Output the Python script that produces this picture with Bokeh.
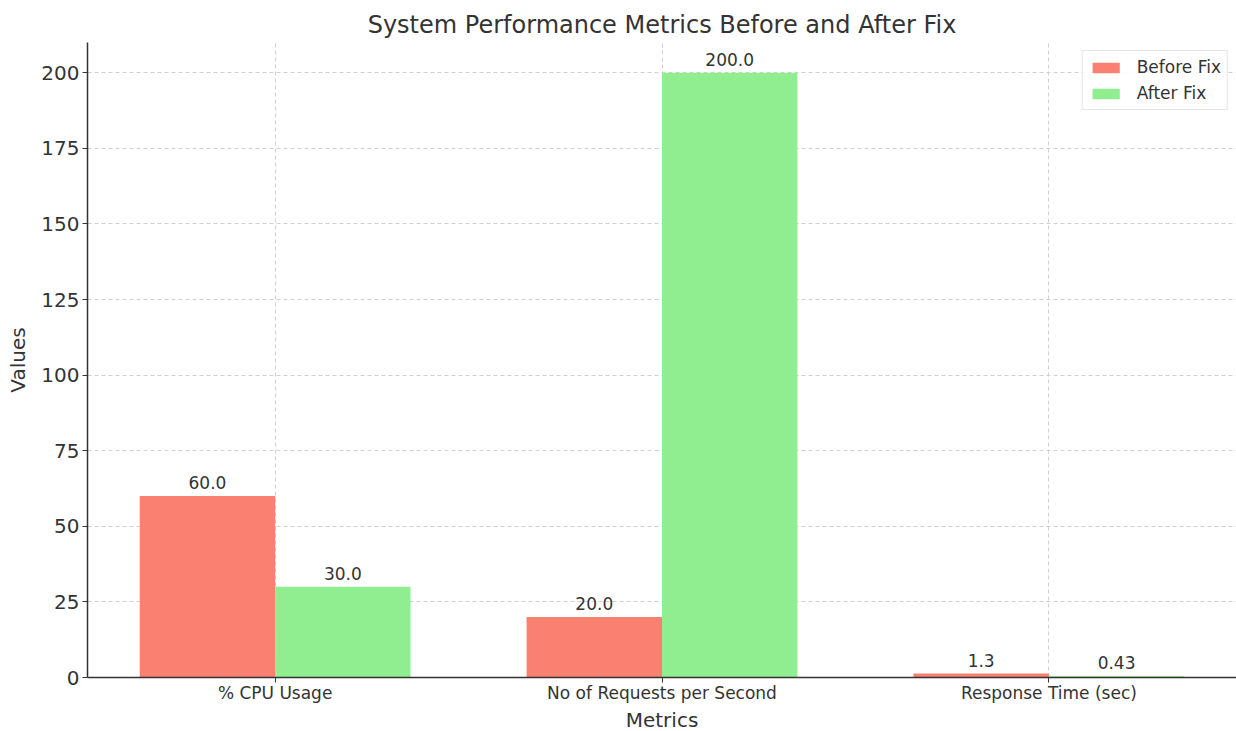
from bokeh.plotting import figure
from bokeh.models import ColumnDataSource, Range1d, FixedTicker, Legend, LegendItem, Title
from bokeh.embed import file_html
from bokeh.resources import INLINE
from bokeh.core.properties import value

categories = ["% CPU Usage", "No of Requests per Second", "Response Time (sec)"]
before_fix = [60.0, 20.0, 1.3]
after_fix = [30.0, 200.0, 0.43]
y_ticks = [0, 25, 50, 75, 100, 125, 150, 175, 200]

FONT = "DejaVu Sans"
TXT = "#333333"
W = 0.35

idx = list(range(len(categories)))
src_b = ColumnDataSource(dict(x=[i - W / 2 for i in idx], top=before_fix,
                              lab=[f"{v}" for v in before_fix]))
src_a = ColumnDataSource(dict(x=[i + W / 2 for i in idx], top=after_fix,
                              lab=[f"{v}" for v in after_fix]))

p = figure(width=1236, height=731, output_backend="svg", toolbar_location=None,
           x_range=Range1d(-0.485, 2.485), y_range=Range1d(0, 210),
           min_border_left=87, min_border_right=0, min_border_top=42, min_border_bottom=48)

p.title.text = "System Performance Metrics Before and After Fix"
p.title.align = "center"
p.title.text_font = FONT
p.title.text_font_size = "24px"
p.title.text_font_style = "normal"
p.title.text_color = TXT
p.title.standoff = 8

rb = p.vbar(x="x", top="top", width=W, source=src_b, fill_color="#FA8072", line_color=None)
ra = p.vbar(x="x", top="top", width=W, source=src_a, fill_color="#90EE90", line_color=None)

p.text(x="x", y="top", text="lab", source=src_b, text_font=value(FONT), text_font_size="17px",
       text_color=TXT, text_align="center", text_baseline="bottom", y_offset=-7)
p.text(x="x", y="top", text="lab", source=src_a, text_font=value(FONT), text_font_size="17px",
       text_color=TXT, text_align="center", text_baseline="bottom", y_offset=-7)

p.outline_line_color = None
p.xaxis.ticker = FixedTicker(ticks=idx)
p.xaxis.major_label_overrides = {i: c for i, c in zip(idx, categories)}
p.yaxis.ticker = FixedTicker(ticks=y_ticks)
for ax in (p.xaxis, p.yaxis):
    ax.axis_line_color = "#333333"
    ax.axis_line_width = 1.5
    ax.major_tick_line_color = "#333333"
    ax.major_tick_in = 0
    ax.major_tick_out = 5
    ax.minor_tick_line_color = None
    ax.major_label_text_font = FONT
    ax.major_label_text_color = TXT
    ax.axis_label_text_font = FONT
    ax.axis_label_text_font_style = "normal"
    ax.axis_label_text_color = TXT
    ax.axis_label_text_font_size = "20px"
p.xaxis.major_label_text_font_size = "17px"
p.yaxis.major_label_text_font_size = "20px"
p.xaxis.major_label_standoff = 0
p.yaxis.major_label_standoff = 3
p.yaxis.axis_label = "Values"
p.yaxis.axis_label_standoff = 8

# x-axis title as a centred title below the axis
xt = Title(text="Metrics", align="center", text_font=FONT, text_font_size="20px",
           text_font_style="normal", text_color=TXT, standoff=0)
p.add_layout(xt, "below")

for g in (p.xgrid, p.ygrid):
    g.grid_line_color = "#d0d0d0"
    g.grid_line_dash = "4 3"
    g.grid_line_width = 1

legend = Legend(items=[LegendItem(label="Before Fix", renderers=[rb]),
                       LegendItem(label="After Fix", renderers=[ra])],
                location="top_right")
legend.label_text_font = FONT
legend.label_text_font_size = "17px"
legend.label_text_color = TXT
legend.border_line_color = "#cccccc"
legend.background_fill_alpha = 0.9
legend.glyph_width = 34
legend.glyph_height = 13
legend.label_standoff = 14
legend.spacing = 6
legend.padding = 6
legend.margin = 8
p.add_layout(legend)

open("out.html", "w").write(file_html(p, INLINE))
